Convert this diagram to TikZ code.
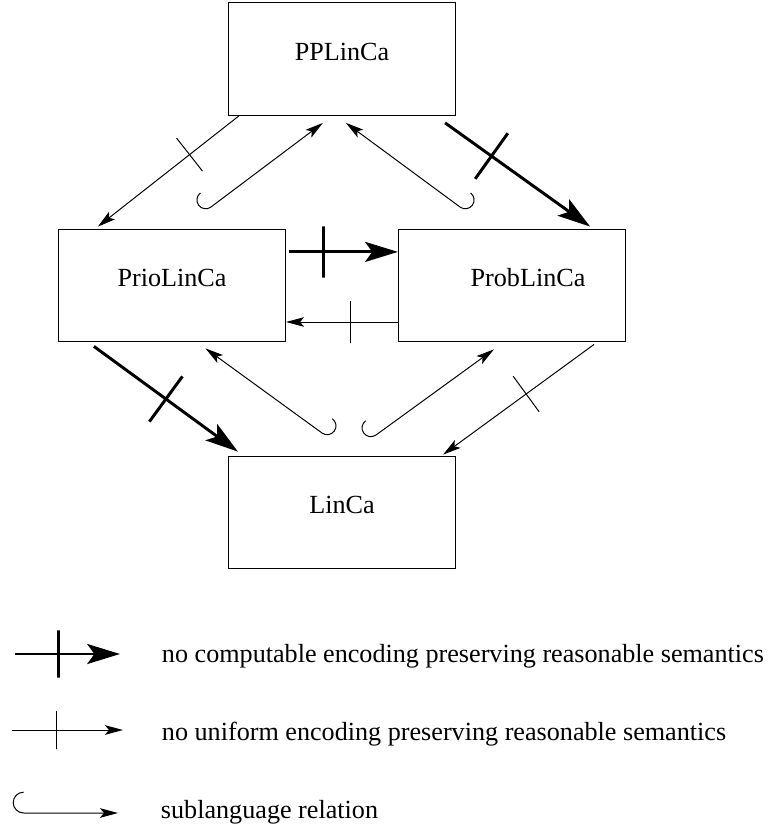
\documentclass[tikz,border=0pt]{standalone}
\usepackage{fontspec}
\setmainfont{Liberation Serif}
\usepackage{tikz}
\usetikzlibrary{arrows.meta}
\tikzstyle{lang}=[shape=rectangle,draw,line width=0.7pt,minimum width=5.68cm,minimum height=2.82cm,text height=0.45cm,text depth=0.38cm]
\tikzstyle{crossbar}=[sloped,draw,minimum height=#1,minimum width=0pt,inner sep=0pt,outer sep=0pt]
\tikzstyle{nocomp}=[-{Stealth[length=0.82cm,width=0.5cm,inset=0.18cm]},line width=2.1pt]
\tikzstyle{nounif}=[-{Stealth[length=0.45cm,width=0.24cm,inset=0.1cm]},line width=0.7pt]
\tikzstyle{subrel}=[{Stealth[length=0.45cm,width=0.24cm,inset=0.1cm]}-,line width=0.7pt]

\begin{document}
\begin{tikzpicture}[font=\fontsize{18.6}{22}\selectfont]
            \useasboundingbox (0,0) rectangle (19.2,-20.675);
            \node[lang] (pp) at (8.55,-1.475) {PPLinCa};
            \node[lang] (prio) at (4.3,-7.1375) {PrioLinCa};
            \node[lang] (prob) at (12.8,-7.1375) {\hspace*{0.8cm}ProbLinCa};
            \node[lang] (linca) at (8.55,-12.8125) {LinCa};

            % hook ends of the sublanguage arrows
            \coordinate (h1) at (5.275,-5.175);
            \coordinate (h2) at (11.5,-5.175);
            \coordinate (h3) at (8.05,-10.825);
            \coordinate (h4) at (9.4,-10.875);

            \draw[nounif] ([xshift=0.275cm]pp.south west) -- node[crossbar=1.05cm, pos=.35] {} ([xshift=1cm,yshift=0.05cm]prio.north west);
            \draw[nocomp] ([xshift=-0.275cm,yshift=-0.175cm]pp.south east) -- node[crossbar=1.4cm, pos=.32] {} ([xshift=-0.9cm,yshift=0.05cm]prob.north east);
            \draw[subrel] ([xshift=2.375cm,yshift=-0.175cm]pp.south west) -- (h1) arc[start angle=-53,delta angle=-180,radius=0.22cm];
            \draw[subrel] ([xshift=2.95cm,yshift=-0.175cm]pp.south west) -- (h2) arc[start angle=233,delta angle=180,radius=0.22cm];

            \draw[nocomp] ([xshift=0.075cm,yshift=0.84cm]prio.east) -- node[crossbar=1.28cm, pos=.32] {} ([yshift=0.84cm]prob.west);
            \draw[nounif] ([yshift=-0.9125cm]prob.west) -- node[crossbar=1.05cm, pos=.42] {} ([yshift=-0.9125cm]prio.east);

            \draw[nocomp] ([xshift=0.9cm,yshift=-0.1cm]prio.south west) -- node[crossbar=1.4cm, pos=.5] {} ([xshift=0.25cm,yshift=0.1cm]linca.north west);
            \draw[subrel] ([xshift=3.69cm,yshift=-0.15cm]prio.south west) -- (h3) arc[start angle=234,delta angle=180,radius=0.22cm];
            \draw[subrel] ([xshift=2.4cm,yshift=-0.175cm]prob.south west) -- (h4) arc[start angle=-54,delta angle=-180,radius=0.22cm];
            \draw[nounif] ([xshift=-0.8cm,yshift=-0.05cm]prob.south east) -- node[crossbar=1.1cm, pos=.45] {} ([xshift=-0.325cm,yshift=0.025cm]linca.north east);

            % legend
            \coordinate (k1s) at (0.375,-16.35);
            \coordinate (k1e) at (3.0,-16.35);
            \coordinate (k2s) at (0.3,-18.25);
            \coordinate (k2e) at (3.075,-18.25);
            \coordinate (k3s) at (0.59,-20.325);
            \coordinate (k3e) at (2.95,-20.325);
            \draw[nocomp] (k1s) -- node[crossbar=1.18cm, pos=.41] {} (k1e);
            \draw[nounif] (k2s) -- node[crossbar=0.95cm, pos=.405] {} (k2e);
            \draw[subrel] (k3e) -- (k3s) arc[start angle=-90,delta angle=-180,radius=0.26cm];
            \node[anchor=base west] (t1) at (3.925,-16.55) {no computable encoding preserving reasonable semantics};
            \node[anchor=base west] (t2) at (3.925,-18.5) {no uniform encoding preserving reasonable semantics};
            \node[anchor=base west] (t3) at (3.9,-20.45) {sublanguage relation};
        \end{tikzpicture}
\end{document}
